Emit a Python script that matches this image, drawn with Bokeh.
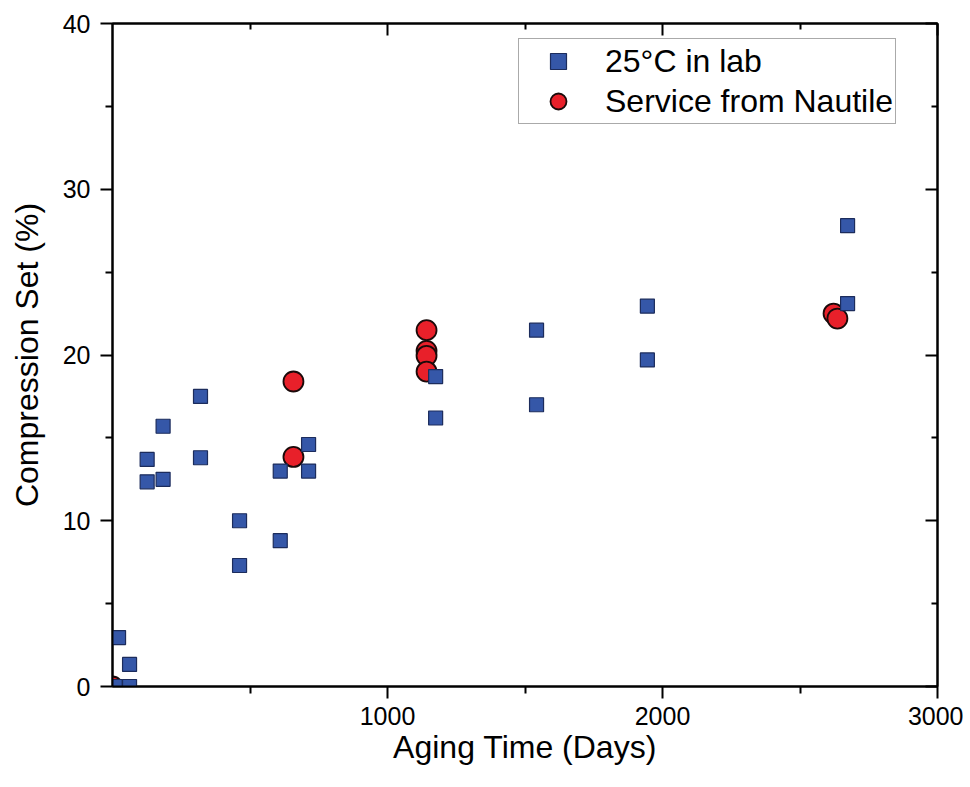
from bokeh.plotting import figure
from bokeh.models import (Range1d, LinearAxis, FixedTicker, Legend, LegendItem,
                          ColumnDataSource)
from bokeh.embed import file_html
from bokeh.resources import INLINE

# ---- data ----
lab_days = [10, 22, 62, 62, 126, 126, 184, 184, 320, 320, 462, 462, 610, 610,
            713, 713, 1175, 1175, 1542, 1542, 1945, 1945, 2673, 2673]
lab_set = [0.0, 2.95, 1.33, 0.0, 13.7, 12.35, 15.7, 12.5, 17.5, 13.8, 10.0, 7.3,
           8.8, 13.0, 13.0, 14.6, 18.7, 16.2, 21.5, 17.0, 22.95, 19.7, 27.8, 23.1]

naut_days = [0, 658, 658, 1142, 1142, 1142, 1142, 2622, 2636]
naut_set = [0.0, 18.4, 13.85, 21.5, 20.25, 19.95, 19.0, 22.5, 22.2]

x_major = [1000, 2000, 3000]
x_minor = [500, 1500, 2500]
y_major = [0, 10, 20, 30, 40]
y_minor = [5, 15, 25, 35]

FONT = "Liberation Sans"

p = figure(width=963, height=778, output_backend="svg", toolbar_location=None,
           x_range=Range1d(0, 3000), y_range=Range1d(0, 40),
           min_border_left=112, min_border_right=26, min_border_top=23,
           min_border_bottom=92, x_axis_location=None, y_axis_location=None)
p.xgrid.visible = False
p.ygrid.visible = False
p.outline_line_color = "black"
p.outline_line_width = 2
p.background_fill_color = "white"
p.border_fill_color = "white"


def style_axis(ax):
    ax.axis_line_color = "black"
    ax.axis_line_width = 2
    ax.major_tick_line_color = "black"
    ax.major_tick_line_width = 2
    ax.minor_tick_line_color = "black"
    ax.minor_tick_line_width = 2
    ax.major_label_text_font = FONT
    ax.major_label_text_font_size = "25px"
    ax.major_label_text_color = "black"
    ax.axis_label_text_font = FONT
    ax.axis_label_text_font_size = "32px"
    ax.axis_label_text_font_style = "normal"
    ax.axis_label_text_color = "black"


# bottom axis
xb = LinearAxis(ticker=FixedTicker(ticks=x_major, minor_ticks=x_minor),
                axis_label="Aging Time (Days)")
style_axis(xb)
xb.major_tick_out = 12
xb.major_tick_in = 0
xb.minor_tick_out = 7
xb.minor_tick_in = 0
xb.major_label_standoff = 8
xb.axis_label_standoff = 1
p.add_layout(xb, "below")

# left axis
yl = LinearAxis(ticker=FixedTicker(ticks=y_major, minor_ticks=y_minor),
                axis_label="Compression Set (%)")
style_axis(yl)
yl.major_tick_out = 12
yl.major_tick_in = 0
yl.minor_tick_out = 7
yl.minor_tick_in = 0
yl.major_label_standoff = 10
yl.axis_label_standoff = 15
p.add_layout(yl, "left")

# top axis (ticks inward, no labels drawn)
xt = LinearAxis(ticker=FixedTicker(ticks=x_major, minor_ticks=x_minor))
style_axis(xt)
xt.major_tick_out = 0
xt.major_tick_in = 12
xt.minor_tick_out = 0
xt.minor_tick_in = 6
xt.major_label_text_font_size = "1px"
xt.major_label_text_color = None
xt.major_label_standoff = 0
p.add_layout(xt, "above")

# right axis (ticks inward, no labels drawn)
yr = LinearAxis(ticker=FixedTicker(ticks=y_major, minor_ticks=y_minor))
style_axis(yr)
yr.major_tick_out = 0
yr.major_tick_in = 12
yr.minor_tick_out = 0
yr.minor_tick_in = 6
yr.major_label_text_font_size = "1px"
yr.major_label_text_color = None
yr.major_label_standoff = 0
p.add_layout(yr, "right")

naut_src = ColumnDataSource(dict(x=naut_days, y=naut_set))
lab_src = ColumnDataSource(dict(x=lab_days, y=lab_set))

r_naut = p.scatter("x", "y", source=naut_src, marker="circle", size=20,
                   fill_color="#E8202A", line_color="#1a0a0a", line_width=1.8)
r_lab = p.scatter("x", "y", source=lab_src, marker="square", size=14,
                  fill_color="#3557A8", line_color="#1c2c5c", line_width=1.2)

legend = Legend(items=[LegendItem(label="25°C in lab", renderers=[r_lab]),
                       LegendItem(label="Service from Nautile", renderers=[r_naut])],
                location=(406, 562))
legend.label_text_font = FONT
legend.label_text_font_size = "32px"
legend.label_text_color = "black"
legend.border_line_color = "#555555"
legend.border_line_width = 1.5
legend.background_fill_alpha = 1
legend.glyph_width = 74
legend.glyph_height = 40
legend.label_height = 30
legend.label_standoff = 10
legend.padding = 2
legend.spacing = 0
legend.margin = 0
p.add_layout(legend, "center")

open("out.html", "w").write(file_html(p, INLINE))
